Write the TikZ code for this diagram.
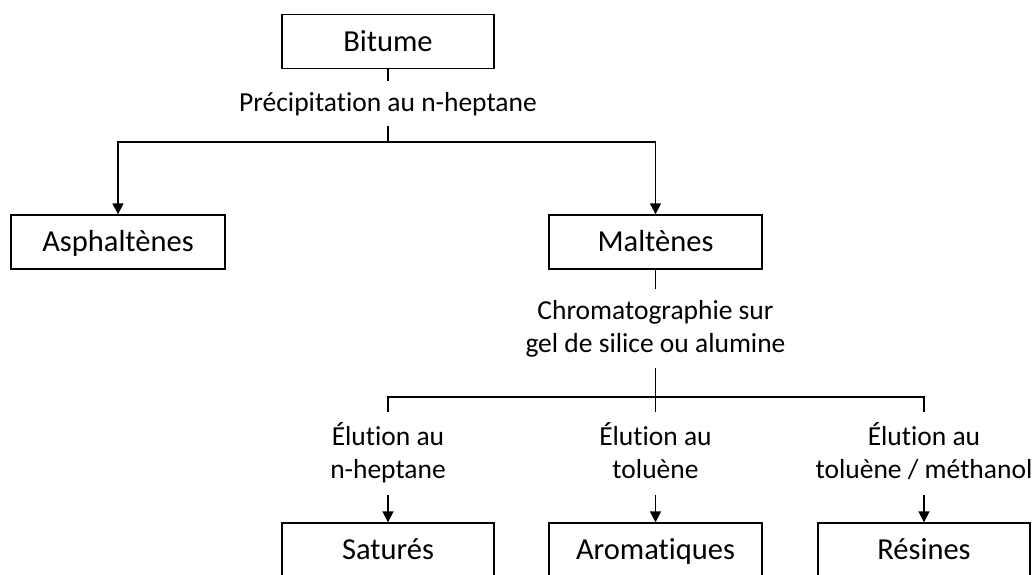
\documentclass[tikz,border=0pt]{standalone}
\usepackage{fontspec}
\setmainfont{Carlito}[Ligatures={NoCommon}]
\usetikzlibrary{arrows.meta}
\newcommand\lstr{\rule[-0.25em]{0pt}{1.05em}}
\tikzset{
  x=1pt, y=-1pt,
  boxnode/.style={draw, line width=1.3pt, rectangle, inner sep=0pt,
    minimum height=54pt, font=\fontsize{30.5}{36}\selectfont,
    text height=27.5pt, text depth=7.6pt},
  lab/.style={inner sep=0pt, align=center, font=\fontsize{27.5}{33}\selectfont},
  conn/.style={line width=1.3pt},
  arr/.style={line width=1.3pt, -{Triangle[length=11pt,width=11pt]}},
}
\begin{document}
\begin{tikzpicture}
\useasboundingbox (0,0) rectangle (1034,574);
% boxes
\node[boxnode, minimum width=212pt] (bit) at (388,41.5) {Bitume};
\node[boxnode, minimum width=214pt] (asph) at (118,242) {Asphaltènes};
\node[boxnode, minimum width=213pt] (malt) at (655.5,242) {Maltènes};
\node[boxnode, minimum width=212pt] (sat) at (388,550) {Saturés};
\node[boxnode, minimum width=213pt] (aro) at (655.5,550) {Aromatiques};
\node[boxnode, minimum width=212pt] (res) at (924,550) {Résines};
% labels
\node[lab, minimum height=45pt] (l1) at (388,103.5) {\lstr Précipitation au n-heptane};
\node[lab, minimum height=79pt] (l2) at (655.5,328.5) {\lstr Chromatographie sur\\\lstr gel de silice ou alumine};
\node[lab, minimum height=83pt] (l3a) at (388,453.5) {\lstr Élution au\\\lstr n-heptane};
\node[lab, minimum height=83pt] (l3b) at (655.5,453.5) {\lstr Élution au\\\lstr toluène};
\node[lab, minimum height=83pt] (l3c) at (924,453.5) {\lstr Élution au\\\lstr toluène / méthanol};
% junctions
\coordinate (j1) at (388,142);
\coordinate (j2) at (655.5,397);
% connectors
\draw[conn] (bit.south) -- (l1.north);
\draw[conn] (l1.south) -- (j1);
\draw[arr] (j1) -| (asph.north);
\draw[arr] (j1) -| (malt.north);
\draw[conn] (malt.south) -- (l2.north);
\draw[conn] (l2.south) -- (j2);
\draw[conn] (j2) -| (l3a.north);
\draw[conn] (j2) -- (l3b.north);
\draw[conn] (j2) -| (l3c.north);
\draw[arr] (l3a.south) -- (sat.north);
\draw[arr] (l3b.south) -- (aro.north);
\draw[arr] (l3c.south) -- (res.north);
\end{tikzpicture}
\end{document}
